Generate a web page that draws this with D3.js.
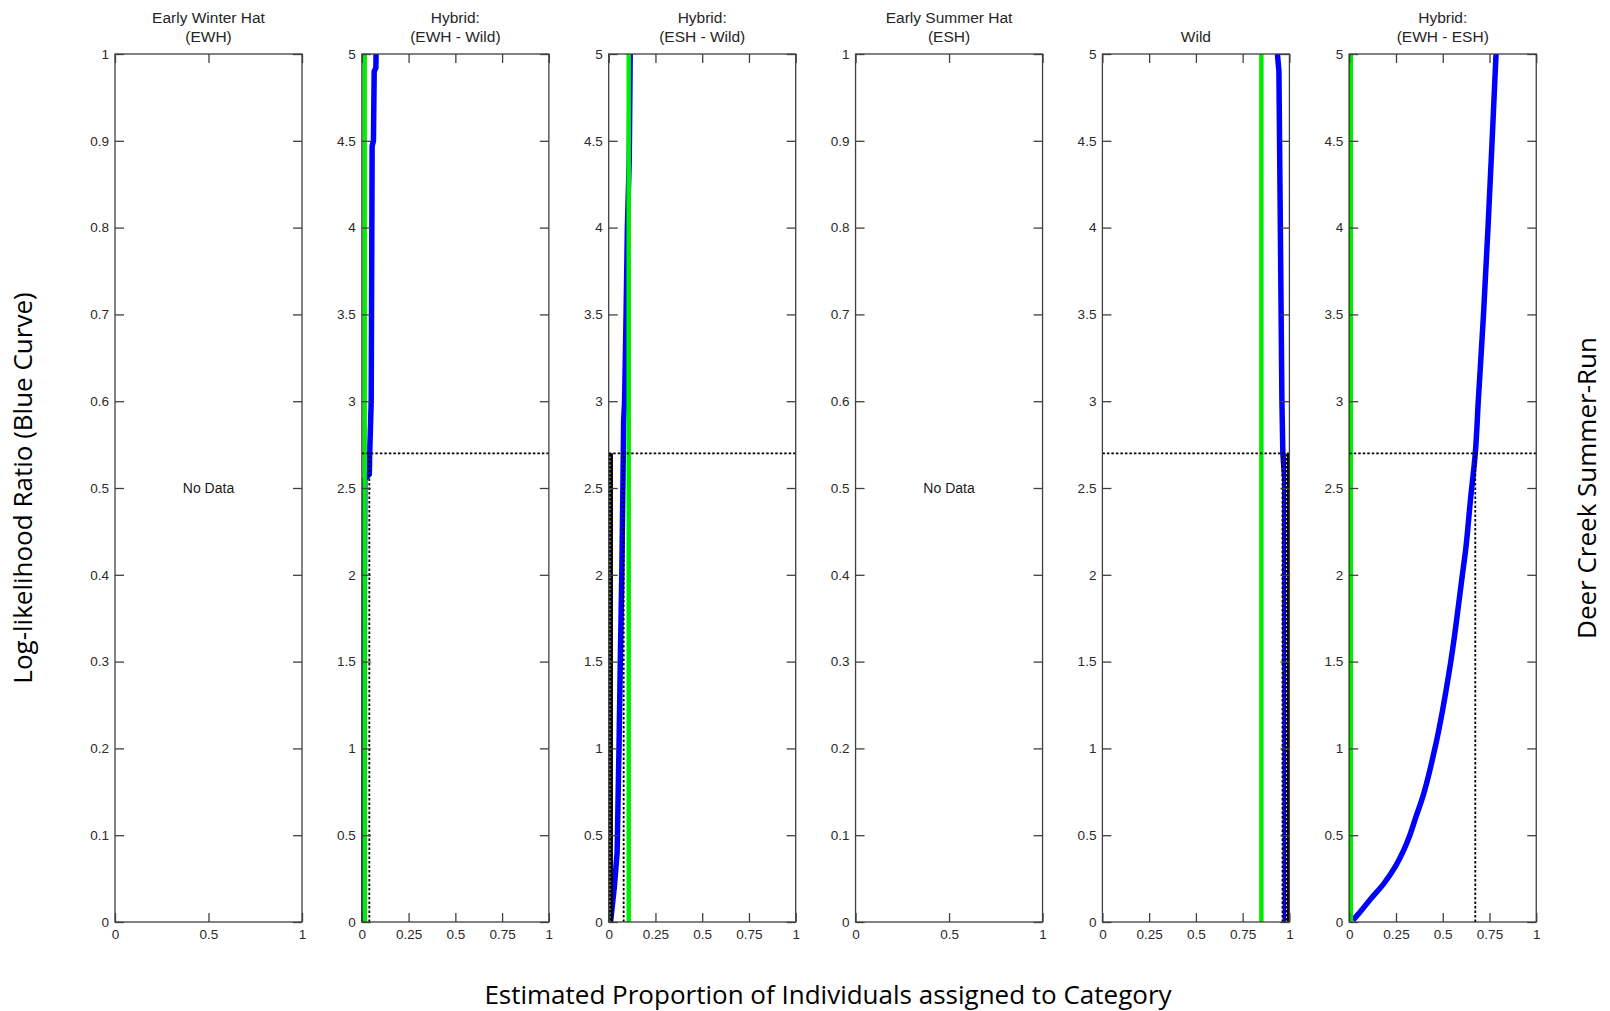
<!DOCTYPE html>
<html>
<head>
<meta charset="utf-8">
<script src="https://cdn.jsdelivr.net/npm/d3@7"></script>
<style>
  body { margin: 0; background: #fff; }
  svg { display: block; }
  .tick text { font-family: "Liberation Sans", Arial, sans-serif; font-size: 13.5px; fill: #2a2a2a; }
  .tick line { stroke: #404040; stroke-width: 1.3; }
</style>
</head>
<body>
<div id="chart"></div>
<script>
// panel titles (two lines each)
const titleLine1 = ["Early Winter Hat", "Hybrid:", "Hybrid:", "Early Summer Hat", "", "Hybrid:"];
const titleLine2 = ["(EWH)", "(EWH - Wild)", "(ESH - Wild)", "(ESH)", "Wild", "(EWH - ESH)"];
const yMaxes = [1, 5, 5, 1, 5, 5];
const hasData = [false, true, true, false, true, true];

// tick values
const yTicksUnit = [0, 0.1, 0.2, 0.3, 0.4, 0.5, 0.6, 0.7, 0.8, 0.9, 1];
const yTicksLLR = [0, 0.5, 1, 1.5, 2, 2.5, 3, 3.5, 4, 4.5, 5];
const xTicksCoarse = [0, 0.5, 1];
const xTicksFine = [0, 0.25, 0.5, 0.75, 1];

// green reference line (proportion), per panel
const greenX = [null, 0.015, 0.107, null, 0.85, 0.0];
// log-likelihood threshold and where the blue curve crosses it
const threshold = 2.7;
const crossX = [null, 0.04, 0.08, null, 0.963, 0.674];
// solid black segment under threshold
const blackX = [null, null, 0.012, null, 0.99, null];

// blue curves: log-likelihood ratio (y) and proportion (x)
const llrEWHWild = [0, 1, 2, 2.55, 2.58, 2.7, 3, 4.47, 4.5, 4.9, 4.92, 5];
const propEWHWild = [0.01, 0.012, 0.014, 0.016, 0.04, 0.042, 0.05, 0.055, 0.062, 0.066, 0.075, 0.076];

const llrESHWild = [0, 0.2, 0.4, 0.7, 1, 1.5, 2, 2.43, 2.7, 2.89, 3, 3.5, 4, 4.4, 5];
const propESHWild = [0.01, 0.03, 0.045, 0.05, 0.055, 0.062, 0.07, 0.075, 0.078, 0.08, 0.085, 0.093, 0.1, 0.11, 0.115];

const llrWild = [0, 2.55, 2.7, 3, 4.9, 5];
const propWild = [0.978, 0.975, 0.965, 0.96, 0.944, 0.936];

const llrEWHESH = [0.01, 0.06, 0.127, 0.22, 0.32, 0.415, 0.5, 0.607, 0.703, 1, 1.5, 2, 2.14, 2.43, 2.7, 3, 3.5, 4, 4.5, 5];
const propEWHESH = [0.02, 0.06, 0.11, 0.184, 0.247, 0.292, 0.324, 0.357, 0.388, 0.458, 0.543, 0.605, 0.622, 0.648, 0.674, 0.69, 0.718, 0.742, 0.764, 0.785];

const blueCurves = [null,
  [propEWHWild, llrEWHWild],
  [propESHWild, llrESHWild],
  null,
  [propWild, llrWild],
  [propEWHESH, llrEWHESH]];
const smoothCurve = [false, false, false, false, false, true];

const width = 1610, height = 1011;
const svg = d3.select("#chart").append("svg")
    .attr("width", width)
    .attr("height", height);

const plotTop = 54, plotBottom = 922;
const panelW = 187, firstLeft = 115, step = 246.85;
const titleFont = "Liberation Sans, Arial, sans-serif";

titleLine1.forEach((t, i) => {
    const left = firstLeft + i * step;
    const x = d3.scaleLinear().domain([0, 1]).range([left, left + panelW]);
    const y = d3.scaleLinear().domain([0, yMaxes[i]]).range([plotBottom, plotTop]);
    const g = svg.append("g");
    const yTicks = yMaxes[i] === 1 ? yTicksUnit : yTicksLLR;
    const xTicks = hasData[i] ? xTicksFine : xTicksCoarse;

    // data marks
    if (blueCurves[i]) {
        const [px, py] = blueCurves[i];
        const pts = px.map((v, k) => [v, py[k]]);
        const line = d3.line().x(d => x(d[0])).y(d => y(d[1]))
            .curve(smoothCurve[i] ? d3.curveMonotoneY : d3.curveLinear);
        g.append("path")
            .attr("d", line(pts))
            .attr("fill", "none")
            .attr("stroke", "#0000ff")
            .attr("stroke-width", 5.5);
    }
    if (greenX[i] !== null) {
        const gx = x(greenX[i]) + (greenX[i] === 0 ? 1.5 : 0);
        g.append("line")
            .attr("x1", gx).attr("x2", gx)
            .attr("y1", y(0)).attr("y2", y(yMaxes[i]))
            .attr("stroke", "#00ee00")
            .attr("stroke-width", 4.5);
    }
    if (blackX[i] !== null) {
        g.append("line")
            .attr("x1", x(blackX[i])).attr("x2", x(blackX[i]))
            .attr("y1", y(0)).attr("y2", y(threshold))
            .attr("stroke", "#000")
            .attr("stroke-width", 4);
        g.append("line")
            .attr("x1", x(blackX[i]) - 1).attr("x2", x(blackX[i]) - 1)
            .attr("y1", y(0)).attr("y2", y(threshold))
            .attr("stroke", "#fff")
            .attr("stroke-width", 1)
            .attr("stroke-dasharray", "1.5,2.5");
    }
    if (crossX[i] !== null) {
        g.append("line")
            .attr("x1", x(0)).attr("x2", x(1))
            .attr("y1", y(threshold)).attr("y2", y(threshold))
            .attr("stroke", "#000")
            .attr("stroke-width", 1.7)
            .attr("stroke-dasharray", "2.5,2");
        g.append("line")
            .attr("x1", x(crossX[i])).attr("x2", x(crossX[i]))
            .attr("y1", y(0)).attr("y2", y(threshold))
            .attr("stroke", "#000")
            .attr("stroke-width", 1.8)
            .attr("stroke-dasharray", "2.5,2");
    }
    if (!hasData[i]) {
        g.append("text")
            .attr("x", x(0.5)).attr("y", y(0.5) + 5)
            .attr("text-anchor", "middle")
            .style("font-family", titleFont)
            .style("font-size", "14px")
            .attr("fill", "#1a1a1a")
            .text("No Data");
    }

    // axes with inward ticks
    g.append("g").attr("transform", `translate(0,${plotBottom})`)
        .call(d3.axisBottom(x).tickValues(xTicks).tickSizeInner(-9).tickSizeOuter(0).tickPadding(7).tickFormat(d3.format("")))
        .call(a => a.select(".domain").remove());
    g.append("g").attr("transform", `translate(0,${plotTop})`)
        .call(d3.axisTop(x).tickValues(xTicks).tickSizeInner(-9).tickSizeOuter(0).tickFormat(""))
        .call(a => a.select(".domain").remove());
    g.append("g").attr("transform", `translate(${left},0)`)
        .call(d3.axisLeft(y).tickValues(yTicks).tickSizeInner(-9).tickSizeOuter(0).tickPadding(6).tickFormat(d3.format("")))
        .call(a => a.select(".domain").remove());
    g.append("g").attr("transform", `translate(${left + panelW},0)`)
        .call(d3.axisRight(y).tickValues(yTicks).tickSizeInner(-9).tickSizeOuter(0).tickFormat(""))
        .call(a => a.select(".domain").remove());

    g.append("rect")
        .attr("x", left).attr("y", plotTop)
        .attr("width", panelW).attr("height", plotBottom - plotTop)
        .attr("fill", "none")
        .attr("stroke", "#404040")
        .attr("stroke-width", 1.3);

    // title
    const tx = left + panelW / 2;
    g.append("text").attr("x", tx).attr("y", 23)
        .attr("text-anchor", "middle")
        .style("font-family", titleFont)
        .style("font-size", "15.5px").attr("fill", "#262626")
        .text(t);
    g.append("text").attr("x", tx).attr("y", 42)
        .attr("text-anchor", "middle")
        .style("font-family", titleFont)
        .style("font-size", "15.5px").attr("fill", "#262626")
        .text(titleLine2[i]);
});

// outer labels
const labelFont = "'Open Sans', sans-serif";
svg.append("text")
    .attr("transform", "translate(32,488) rotate(-90)")
    .attr("text-anchor", "middle")
    .style("font-family", labelFont).style("font-size", "26px")
    .text("Log-likelihood Ratio (Blue Curve)");
svg.append("text")
    .attr("transform", "translate(1596,488) rotate(-90)")
    .attr("text-anchor", "middle")
    .style("font-family", labelFont).style("font-size", "26px")
    .text("Deer Creek Summer-Run");
svg.append("text")
    .attr("x", 828).attr("y", 1004)
    .attr("text-anchor", "middle")
    .style("font-family", labelFont).style("font-size", "26px")
    .text("Estimated Proportion of Individuals assigned to Category");
</script>
</body>
</html>
